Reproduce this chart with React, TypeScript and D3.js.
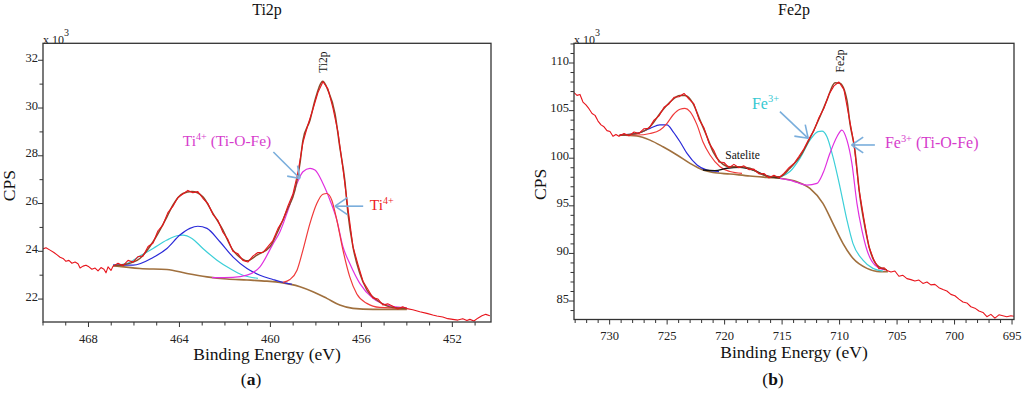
import * as d3 from "d3";

type Pt = [number, number];

const FONT = '"Liberation Serif"';

// ---- Ti2p (binding energy eV, CPS x10^3) ----
const tiXTicks = [468, 464, 460, 456, 452];
const tiYTicks = [22, 24, 26, 28, 30, 32];

const tiRaw: Pt[] = [
  [470.0, 24.1], [469.87, 24.15], [469.69, 24.05], [469.52, 23.95], [469.38, 23.85],
  [469.25, 23.75], [469.12, 23.7], [468.99, 23.58], [468.86, 23.62], [468.73, 23.5],
  [468.59, 23.55], [468.46, 23.48], [468.37, 23.3], [468.24, 23.38], [468.11, 23.42],
  [467.98, 23.35], [467.85, 23.25], [467.71, 23.3], [467.58, 23.18], [467.45, 23.32],
  [467.32, 23.25], [467.23, 23.1], [467.14, 23.35], [467.01, 23.2],
  [466.92, 23.38], [466.7, 23.5], [466.48, 23.4], [466.26, 23.62], [466.04, 23.55],
  [465.82, 23.78], [465.6, 23.8], [465.38, 24.2], [465.16, 24.35], [464.95, 24.85],
  [464.73, 25.1], [464.51, 25.62], [464.29, 25.88], [464.07, 26.25], [463.85, 26.4],
  [463.63, 26.55], [463.41, 26.45], [463.19, 26.5], [462.97, 26.22], [462.75, 26.0],
  [462.53, 25.55], [462.31, 25.3], [462.09, 24.8], [461.87, 24.5], [461.65, 24.0],
  [461.43, 23.9], [461.21, 23.62], [460.99, 23.55], [460.77, 23.8], [460.55, 23.95],
  [460.33, 23.95], [460.11, 24.2], [459.89, 24.45], [459.67, 24.95], [459.45, 25.3],
  [459.23, 25.9], [459.01, 26.4], [458.79, 27.3], [458.57, 28.55], [458.35, 29.3],
  [458.13, 29.95], [457.91, 30.65], [457.69, 31.1], [457.47, 30.8], [457.25, 30.0],
  [457.03, 29.0], [456.81, 27.45], [456.59, 25.8], [456.37, 24.2], [456.15, 23.45],
  [455.93, 22.75], [455.71, 22.4], [455.49, 22.05], [455.27, 22.0], [455.05, 21.75],
  [454.84, 21.8], [454.62, 21.7], [454.4, 21.58], [454.18, 21.68], [454.0, 21.6],
  [453.74, 21.55], [453.43, 21.47], [453.12, 21.4], [452.86, 21.33], [452.68, 21.29],
  [452.42, 21.25], [452.2, 21.18], [451.98, 21.15], [451.76, 21.12], [451.54, 21.18],
  [451.36, 21.1], [451.23, 21.15], [451.05, 21.08], [450.88, 21.2], [450.7, 21.3],
  [450.53, 21.36], [450.35, 21.3],
];

const tiEnvelope: Pt[] = [
  [466.92, 23.4], [466.4, 23.45], [465.74, 23.7], [465.16, 24.4], [464.55, 25.44],
  [464.29, 25.93], [463.85, 26.42], [463.45, 26.5], [462.97, 26.28], [462.53, 25.59],
  [462.13, 24.96], [461.65, 24.05], [461.34, 23.75], [461.03, 23.6], [460.59, 23.84],
  [460.02, 24.19], [459.62, 24.95], [459.27, 25.72], [458.92, 26.56], [458.7, 27.68],
  [458.57, 28.65], [458.26, 29.49], [458.04, 30.33], [457.69, 31.12], [457.47, 30.74],
  [457.16, 29.77], [456.95, 28.37], [456.73, 26.98], [456.59, 25.59], [456.37, 24.19],
  [456.07, 23.08], [455.76, 22.38], [455.32, 21.96], [454.62, 21.65], [454.0, 21.61],
];

const tiBackground: Pt[] = [
  [466.92, 23.4], [465.74, 23.28], [464.55, 23.24], [463.67, 23.07], [462.79, 22.93],
  [461.91, 22.84], [461.03, 22.8], [460.15, 22.75], [459.58, 22.7], [458.7, 22.52],
  [458.13, 22.31], [457.52, 22.03], [456.95, 21.75], [456.37, 21.61], [455.49, 21.57],
  [454.0, 21.57],
];

const tiBlue: Pt[] = [
  [466.92, 23.42], [466.04, 23.42], [465.16, 23.74], [464.55, 24.12], [463.98, 24.68],
  [463.54, 24.96], [463.19, 25.05], [462.79, 24.96], [462.22, 24.4], [461.65, 23.77],
  [461.03, 23.28], [460.46, 23.0], [459.89, 22.82], [459.58, 22.73], [459.05, 22.62],
];

const tiCyan: Pt[] = [
  [466.92, 23.42], [466.31, 23.49], [465.74, 23.8], [465.16, 24.12], [464.55, 24.47],
  [464.11, 24.65], [463.85, 24.68], [463.45, 24.54], [462.97, 24.12], [462.35, 23.63],
  [461.78, 23.28], [461.21, 23.0], [460.55, 22.87],
];

const tiMagenta: Pt[] = [
  [462.57, 22.9], [461.65, 22.91], [461.03, 23.0], [460.46, 23.35], [459.89, 24.3],
  [459.58, 24.82], [459.27, 25.6], [458.83, 26.84], [458.57, 27.33], [458.26, 27.47],
  [458.04, 27.4], [457.69, 26.84], [457.38, 26.14], [457.08, 25.31], [456.81, 24.19],
  [456.51, 23.49], [456.07, 22.66], [455.49, 22.03], [454.88, 21.75], [454.0, 21.63],
];

const tiRed: Pt[] = [
  [459.45, 22.7], [459.14, 22.82], [458.83, 23.21], [458.57, 24.05], [458.26, 25.17],
  [457.96, 26.0], [457.69, 26.39], [457.52, 26.42], [457.3, 26.14], [457.08, 25.31],
  [456.81, 24.05], [456.51, 22.93], [456.2, 22.21], [455.76, 21.82], [455.19, 21.65],
  [454.0, 21.61],
];

// ---- Fe2p ----
const feXTicks = [730, 725, 720, 715, 710, 705, 700, 695];
const feYTicks = [85, 90, 95, 100, 105, 110];

const feRaw: Pt[] = [
  [733.1, 106.9], [732.84, 106.6], [732.58, 106.7], [732.32, 105.9], [732.06, 105.6],
  [731.8, 105.2], [731.53, 104.7], [731.27, 104.5], [731.01, 103.9], [730.75, 103.5],
  [730.49, 103.3], [730.23, 102.9], [729.97, 102.8], [729.71, 102.3], [729.45, 102.5],
  [729.19, 102.3], [728.75, 102.6], [728.32, 102.35], [727.88, 102.75], [727.45, 102.6],
  [727.01, 103.1], [726.58, 103.15], [726.14, 104.0], [725.71, 104.45], [725.27, 105.35],
  [724.84, 105.7], [724.4, 106.4], [723.97, 106.45], [723.53, 106.8], [723.1, 106.2],
  [722.67, 105.7], [722.23, 104.1], [721.8, 103.2], [721.36, 101.6], [720.93, 100.8],
  [720.49, 99.6], [720.06, 99.55], [719.62, 99.0], [719.19, 99.35], [718.75, 99.0],
  [718.32, 99.2], [717.88, 98.8], [717.45, 98.85], [717.01, 98.35], [716.58, 98.4],
  [716.14, 97.95], [715.71, 98.2], [715.27, 97.95], [714.84, 98.4], [714.4, 99.0],
  [713.97, 99.45], [713.53, 100.2], [713.1, 101.0], [712.66, 102.05], [712.23, 102.9],
  [711.8, 104.25], [711.36, 105.25], [710.93, 106.7], [710.49, 107.6], [710.06, 108.0],
  [709.62, 107.2], [709.19, 104.4], [708.75, 101.55], [708.32, 96.8], [707.88, 93.6],
  [707.45, 90.7], [707.01, 89.3], [706.58, 88.4], [706.14, 88.5], [705.88, 88.2],
  [705.53, 88.05], [705.19, 88.15], [704.84, 87.6], [704.49, 87.7], [704.14, 87.35],
  [703.8, 87.25], [703.45, 87.1], [703.1, 87.2], [702.75, 86.85], [702.4, 87.0],
  [702.06, 86.7], [701.71, 86.75], [701.36, 86.4], [701.01, 86.2], [700.67, 86.05],
  [700.32, 85.7], [699.97, 85.55], [699.62, 85.2], [699.27, 84.9], [698.93, 84.8],
  [698.58, 84.4], [698.23, 84.25], [697.88, 83.95], [697.53, 83.8], [697.19, 83.35],
  [696.84, 83.6], [696.49, 83.2], [696.14, 83.55], [695.8, 83.45], [695.45, 83.35],
  [695.1, 83.45], [694.84, 83.4],
];

const feEnvelope: Pt[] = [
  [729.19, 102.4], [727.62, 102.6], [726.49, 103.3], [725.62, 104.7], [724.75, 105.9],
  [723.88, 106.6], [723.45, 106.6], [722.75, 105.77], [722.14, 104.0], [721.53, 102.26],
  [721.01, 100.7], [720.4, 99.63], [719.53, 99.1], [718.67, 99.1], [717.8, 98.94],
  [716.93, 98.41], [716.06, 98.06], [715.19, 98.06], [714.32, 98.94], [713.45, 100.16],
  [712.58, 102.1], [711.71, 104.36], [711.1, 106.1], [710.4, 107.93], [709.97, 107.87],
  [709.36, 106.1], [709.1, 103.67], [708.67, 100.86], [708.23, 95.96], [707.8, 92.8],
  [707.36, 90.36], [706.75, 88.78], [705.88, 88.26],
];

const feBackground: Pt[] = [
  [729.1, 102.44], [727.62, 102.33], [726.49, 101.9], [725.36, 101.2], [724.14, 100.34],
  [723.01, 99.46], [721.88, 98.76], [721.01, 98.5], [719.53, 98.34], [717.8, 98.13],
  [716.32, 97.99], [715.19, 97.89], [713.71, 97.53], [712.58, 96.83], [711.45, 95.26],
  [710.58, 93.16], [709.71, 91.06], [708.84, 89.49], [707.62, 88.43], [706.49, 88.08],
  [705.8, 88.08],
];

const feBlue: Pt[] = [
  [729.1, 102.44], [727.62, 102.6], [726.49, 103.14], [725.62, 103.5], [725.01, 103.5],
  [724.49, 102.8], [723.88, 101.73], [723.27, 100.5], [722.4, 99.29], [721.53, 98.76],
  [720.49, 98.6],
];

const feRed: Pt[] = [
  [729.1, 102.44], [727.62, 102.44], [726.49, 102.6], [725.62, 102.96], [725.01, 103.67],
  [724.49, 104.54], [723.88, 105.14], [723.45, 105.24], [723.01, 104.9], [722.4, 103.5],
  [721.88, 101.7], [721.27, 100.34], [720.4, 99.1], [719.53, 98.6], [718.49, 98.4],
];

const feSatellite: Pt[] = [
  [721.88, 98.76], [720.84, 98.7], [719.8, 98.94], [718.67, 99.04], [717.53, 98.76],
  [716.32, 98.13], [715.19, 97.95],
];

const feCyan: Pt[] = [
  [715.19, 98.0], [714.32, 98.6], [713.45, 99.99], [712.58, 101.9], [711.88, 102.8],
  [711.53, 102.85], [711.1, 102.26], [710.58, 100.16], [709.97, 97.0], [709.36, 93.5],
  [708.84, 91.06], [707.97, 89.3], [707.1, 88.43], [706.23, 88.15],
];

const feMagenta: Pt[] = [
  [715.19, 97.89], [714.32, 97.7], [713.71, 97.45], [712.84, 97.18], [711.97, 97.36],
  [711.45, 98.41], [710.84, 100.52], [710.23, 102.26], [709.8, 102.96], [709.36, 101.9],
  [708.93, 99.46], [708.49, 95.26], [708.06, 92.46], [707.62, 90.36], [706.93, 88.78],
  [706.06, 88.26],
];

const C = {
  raw: "#e8141c",
  env: "#8b4a2a",
  bg: "#a0703e",
  blue: "#2a2ad8",
  cyan: "#3ccfd8",
  magenta: "#e030e0",
  red: "#f03a3a",
  black: "#111",
  arrow: "#7aaedc",
};

type Curve = { data: Pt[]; color: string; width: number; smooth: boolean };
type Label = { at: Pt; base: string; sup?: string; rest?: string; color: string; size: number };
type Arrow = { from: Pt; to: Pt; len: number };

type PanelCfg = {
  title: string;
  caption: string;
  captionX: number;
  left: number; right: number; top: number; bottom: number;
  xDomain: [number, number]; yDomain: [number, number];
  xMajor: number[]; yMajor: number[];
  curves: Curve[];
  labels: Label[];
  arrows: Arrow[];
  peak: { at: Pt; text: string };
};

const Panel = ({ cfg, id }: { cfg: PanelCfg; id: string }) => {
  const x = d3.scaleLinear().domain(cfg.xDomain).range([cfg.left, cfg.right]);
  const y = d3.scaleLinear().domain(cfg.yDomain).range([cfg.bottom, cfg.top]);
  const lineSmooth = d3.line<Pt>().x(d => x(d[0])).y(d => y(d[1])).curve(d3.curveMonotoneX);
  const lineRaw = d3.line<Pt>().x(d => x(d[0])).y(d => y(d[1]));

  const [xa, xb] = cfg.xDomain;
  const xMinor = d3.range(Math.ceil(Math.min(xa, xb)), Math.max(xa, xb) + 0.001, 1);
  const [ya, yb] = cfg.yDomain;
  const yMinor = d3.range(Math.ceil(ya), yb + 0.001, 1);
  const cx = (cfg.left + cfg.right) / 2;
  const ff = { fontFamily: FONT };

  return (
    <g>
      <defs>
        <clipPath id={id}>
          <rect x={cfg.left} y={cfg.top} width={cfg.right - cfg.left} height={cfg.bottom - cfg.top} />
        </clipPath>
      </defs>
      <text style={ff} x={cx} y={15} textAnchor="middle" fontSize={16} fill="#111">{cfg.title}</text>
      <text style={ff} x={cfg.left} y={cfg.top + 0.5} fontSize={12} fill="#222">
        x 10<tspan dy={-8} fontSize={10}>3</tspan>
      </text>
      <text
        style={ff}
        transform={`translate(${cfg.left - 28},${(cfg.top + cfg.bottom) / 2 + 3}) rotate(-90)`}
        textAnchor="middle" fontSize={17.5} fill="#111"
      >CPS</text>

      {xMinor.map(v => (
        <line key={"xm" + v} x1={x(v)} x2={x(v)} y1={cfg.bottom} y2={cfg.bottom + (cfg.xMajor.includes(v) ? 5 : 3.5)} stroke="#333" strokeWidth={1} />
      ))}
      {cfg.xMajor.map(v => (
        <text style={ff} key={"xl" + v} x={x(v)} y={cfg.bottom + 20.5} textAnchor="middle" fontSize={12.5} fill="#222">{v}</text>
      ))}
      {yMinor.map(v => (
        <line key={"ym" + v} x1={cfg.left - (cfg.yMajor.includes(v) ? 5 : 3.5)} x2={cfg.left} y1={y(v)} y2={y(v)} stroke="#333" strokeWidth={1} />
      ))}
      {cfg.yMajor.map(v => (
        <text style={ff} key={"yl" + v} x={cfg.left - 5} y={y(v) + 1.5} textAnchor="end" fontSize={12.5} fill="#222">{v}</text>
      ))}

      <g clipPath={`url(#${id})`} fill="none" strokeLinejoin="round">
        {cfg.curves.map((c, i) => (
          <path key={i} d={(c.smooth ? lineSmooth : lineRaw)(c.data) ?? ""} stroke={c.color} strokeWidth={c.width} />
        ))}
      </g>

      <rect x={cfg.left} y={cfg.top} width={cfg.right - cfg.left} height={cfg.bottom - cfg.top} fill="none" stroke="#333" strokeWidth={1.3} />

      <text
        style={ff}
        transform={`translate(${x(cfg.peak.at[0]) + 4},${y(cfg.peak.at[1])}) rotate(-90)`}
        textAnchor="middle" fontSize={11.5} fill="#111"
      >{cfg.peak.text}</text>

      {cfg.arrows.map((a, i) => {
        const x1 = x(a.from[0]), y1 = y(a.from[1]);
        const x2 = x(a.to[0]), y2 = y(a.to[1]);
        const ang = Math.atan2(y2 - y1, x2 - x1);
        const s = 0.6;
        const h1 = [x2 - a.len * Math.cos(ang - s), y2 - a.len * Math.sin(ang - s)];
        const h2 = [x2 - a.len * Math.cos(ang + s), y2 - a.len * Math.sin(ang + s)];
        return (
          <g key={"ar" + i} stroke={C.arrow} strokeWidth={1.6} fill="none">
            <line x1={x1} y1={y1} x2={x2} y2={y2} />
            <line x1={h1[0]} y1={h1[1]} x2={x2} y2={y2} />
            <line x1={h2[0]} y1={h2[1]} x2={x2} y2={y2} />
          </g>
        );
      })}
      {cfg.labels.map((l, i) => (
        <text style={ff} key={"lb" + i} x={x(l.at[0])} y={y(l.at[1])} fontSize={l.size} fill={l.color}>
          {l.base}
          {l.sup && <tspan style={ff} dy={-l.size * 0.4} fontSize={l.size * 0.65}>{l.sup}</tspan>}
          {l.rest !== undefined && <tspan style={ff} dy={l.sup ? l.size * 0.4 : 0}>{l.rest}</tspan>}
        </text>
      ))}

      <text style={ff} x={cx} y={cfg.bottom + 38} textAnchor="middle" fontSize={17.5} fill="#111">Binding Energy (eV)</text>
      <text style={ff} x={cfg.captionX} y={385} textAnchor="middle" fontSize={17.5} fill="#111">
        (<tspan style={ff} fontWeight="bold">{cfg.caption}</tspan>)
      </text>
    </g>
  );
};

const tiCfg: PanelCfg = {
  title: "Ti2p",
  caption: "a",
  captionX: 251,
  left: 43, right: 491, top: 43.3, bottom: 322,
  xDomain: [470, 450.3], yDomain: [21.04, 32.71],
  xMajor: tiXTicks, yMajor: tiYTicks,
  curves: [
    { data: tiBackground, color: C.bg, width: 1.6, smooth: true },
    { data: tiCyan, color: C.cyan, width: 1.2, smooth: true },
    { data: tiBlue, color: C.blue, width: 1.2, smooth: true },
    { data: tiMagenta, color: C.magenta, width: 1.2, smooth: true },
    { data: tiRed, color: C.red, width: 1.2, smooth: true },
    { data: tiEnvelope, color: C.env, width: 1.5, smooth: true },
    { data: tiRaw, color: C.raw, width: 1.1, smooth: false },
  ],
  labels: [
    { at: [463.85, 28.4], base: "Ti", sup: "4+", rest: " (Ti-O-Fe)", color: "#d63ccc", size: 15.5 },
    { at: [455.63, 25.72], base: "Ti", sup: "4+", color: "#ee1c24", size: 15.5 },
  ],
  arrows: [
    { from: [459.87, 28.16], to: [458.7, 27.05], len: 13 },
    { from: [455.92, 25.89], to: [457.16, 25.89], len: 15 },
  ],
  peak: { at: [457.69, 31.92], text: "Ti2p" },
};

const feCfg: PanelCfg = {
  title: "Fe2p",
  caption: "b",
  captionX: 773,
  left: 574, right: 1014, top: 43.3, bottom: 319.5,
  xDomain: [733.1, 694.83], yDomain: [83.06, 112.07],
  xMajor: feXTicks, yMajor: feYTicks,
  curves: [
    { data: feBackground, color: C.bg, width: 1.6, smooth: true },
    { data: feBlue, color: C.blue, width: 1.2, smooth: true },
    { data: feRed, color: C.red, width: 1.2, smooth: true },
    { data: feSatellite, color: C.black, width: 1.4, smooth: true },
    { data: feCyan, color: C.cyan, width: 1.2, smooth: true },
    { data: feMagenta, color: C.magenta, width: 1.2, smooth: true },
    { data: feEnvelope, color: C.env, width: 1.5, smooth: true },
    { data: feRaw, color: C.raw, width: 1.1, smooth: false },
  ],
  labels: [
    { at: [717.62, 105.2], base: "Fe", sup: "3+", color: "#35c8d2", size: 16 },
    { at: [706.06, 101.04], base: "Fe", sup: "3+", rest: " (Ti-O-Fe)", color: "#d63ccc", size: 16 },
    { at: [719.94, 99.88], base: "Satelite", color: "#111", size: 11.5 },
  ],
  arrows: [
    { from: [715.19, 104.9], to: [712.73, 102.09], len: 14 },
    { from: [706.93, 101.39], to: [708.95, 101.39], len: 14 },
  ],
  peak: { at: [709.97, 110.21], text: "Fe2p" },
};

export default function App() {
  return (
    <svg width={1024} height={398} style={{ position: "absolute", left: 0, top: 0, background: "#fff" }}>
      <rect width={1024} height={398} fill="#fff" />
      <Panel cfg={tiCfg} id="clipTi" />
      <Panel cfg={feCfg} id="clipFe" />
    </svg>
  );
}
